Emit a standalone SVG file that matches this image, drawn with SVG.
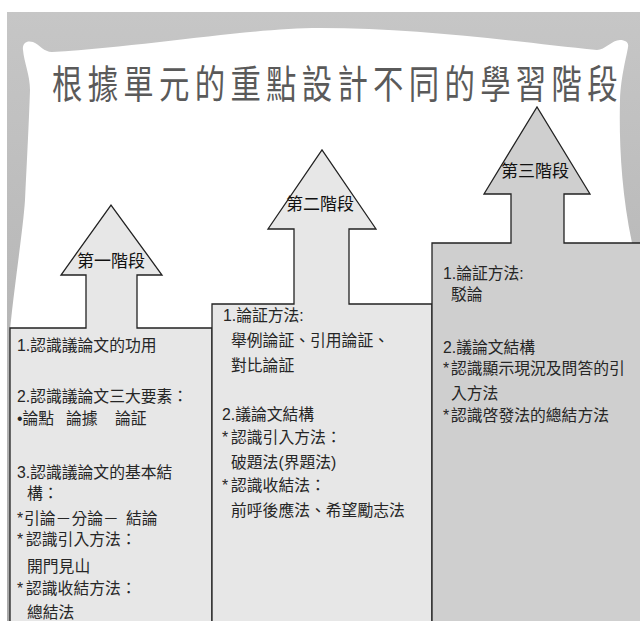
<svg xmlns="http://www.w3.org/2000/svg" width="640" height="621" viewBox="0 0 640 621">
  <defs>
    <linearGradient id="bg" x1="0" y1="0" x2="0" y2="1">
      <stop offset="0" stop-color="#c6c6c6"/>
      <stop offset="1" stop-color="#a9a9a9"/>
    </linearGradient>
    <style>
      .shape { stroke: #222; stroke-width: 1.3; stroke-linejoin: miter; }
      .light { fill: #e7e7e7; }
      .dark { fill: #cfcfcf; }
      .label { font-family: "Noto Sans CJK TC", "Liberation Sans", sans-serif; font-size: 17px; fill: #111; text-anchor: middle; }
      .body { font-family: "Liberation Sans", "Noto Sans CJK TC", sans-serif; font-size: 15.8px; fill: #262626; }
      .title { font-family: "Noto Sans CJK TC", "Liberation Sans", sans-serif; font-size: 38px; fill: #5a5a5a; }
    </style>
  </defs>

  <rect x="0" y="0" width="640" height="621" fill="#ffffff"/>
  <rect x="7" y="12" width="633" height="609" fill="url(#bg)"/>
  <path id="scroll" fill="#ffffff" d="M 23,50 C 22,43 27,40 33,42 C 40,45 44,52 52,52 C 150,46 250,28 320,28 C 420,28 520,42 597,50 C 605,50 612,40 620,40 C 626,40 629,43 628,47 C 627,55 621,75 620,100 C 619,140 621,190 632,243 L 632,621 L 10,621 L 10,330 C 15,280 23,230 25,200 C 27,160 29,120 30,90 C 30,75 24,62 23,50 Z"/>

  <g id="title">
    <text class="title" transform="translate(52,98) scale(0.8,1.02)" x="0" y="0" textLength="707" lengthAdjust="spacing">根據單元的重點設計不同的學習階段</text>
  </g>

  <g id="stage1">
    <path class="shape light" d="M 10,328 L 86,328 L 86,275 L 61,275 L 111,205 L 162,275 L 137,275 L 137,328 L 212,328 L 212,630 L 10,630 Z"/>
    <text class="label" x="111" y="267">第一階段</text>
    <text class="body" x="17" y="351">1.認識議論文的功用</text>
    <text class="body" x="17" y="402">2.認識議論文三大要素：</text>
    <text class="body" y="424"><tspan x="17">•論點</tspan><tspan x="66">論據</tspan><tspan x="115">論証</tspan></text>
    <text class="body" x="17" y="478">3.認識議論文的基本結</text>
    <text class="body" x="27" y="499">構：</text>
    <text class="body" y="524"><tspan x="17">*</tspan><tspan x="24">引論－分論－</tspan><tspan x="126">結論</tspan></text>
    <text class="body" y="545"><tspan x="17">*</tspan><tspan x="26">認識引入方法：</tspan></text>
    <text class="body" x="27" y="572">開門見山</text>
    <text class="body" y="594"><tspan x="17">*</tspan><tspan x="26">認識收結方法：</tspan></text>
    <text class="body" x="27" y="618">總結法</text>
  </g>

  <g id="stage2">
    <path class="shape light" d="M 212,304 L 294,304 L 294,229 L 268,229 L 322,150 L 376,229 L 349,229 L 349,304 L 432,304 L 432,630 L 212,630 Z"/>
    <text class="label" x="320" y="210">第二階段</text>
    <text class="body" x="223" y="321">1.論証方法:</text>
    <text class="body" x="231" y="346">舉例論証、引用論証、</text>
    <text class="body" x="231" y="371">對比論証</text>
    <text class="body" x="222" y="420">2.議論文結構</text>
    <text class="body" y="443"><tspan x="222">*</tspan><tspan x="231">認識引入方法：</tspan></text>
    <text class="body" x="231" y="468">破題法(界題法)</text>
    <text class="body" y="491"><tspan x="222">*</tspan><tspan x="231">認識收結法：</tspan></text>
    <text class="body" x="231" y="516">前呼後應法、希望勵志法</text>
  </g>

  <g id="stage3">
    <path class="shape dark" d="M 432,243 L 511,243 L 511,194 L 484,194 L 537,107 L 590,194 L 564,194 L 564,243 L 650,243 L 650,630 L 432,630 Z"/>
    <text class="label" x="535" y="177">第三階段</text>
    <text class="body" x="443" y="279">1.論証方法:</text>
    <text class="body" x="451" y="300">駁論</text>
    <text class="body" x="443" y="353">2.議論文結構</text>
    <text class="body" y="374"><tspan x="443">*</tspan><tspan x="451">認識顯示現況及問答的引</tspan></text>
    <text class="body" x="451" y="399">入方法</text>
    <text class="body" y="421"><tspan x="443">*</tspan><tspan x="451">認識啓發法的總結方法</tspan></text>
  </g>

  <g id="connectors"/>
</svg>
